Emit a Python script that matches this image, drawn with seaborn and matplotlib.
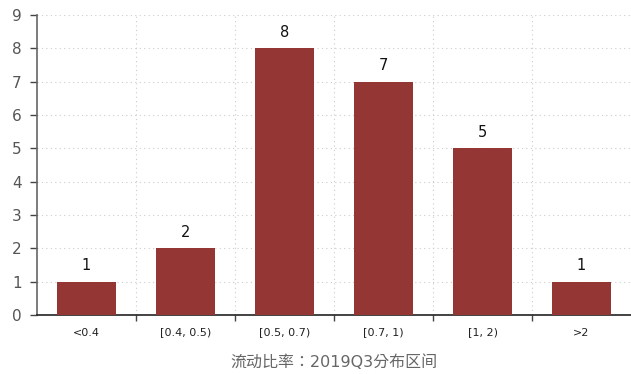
import matplotlib
matplotlib.use("Agg")
import matplotlib.pyplot as plt
import seaborn as sns
import pandas as pd
from matplotlib.ticker import FixedLocator

categories = ["<0.4", "[0.4, 0.5)", "[0.5, 0.7)", "[0.7, 1)", "[1, 2)", ">2"]
counts = [1, 2, 8, 7, 5, 1]
title = "流动比率：2019Q3分布区间"

sns.set_theme(style="white")
plt.rcParams["font.family"] = ["DejaVu Sans", "Noto Sans CJK TC"]

df = pd.DataFrame({"区间": categories, "数量": counts})

fig = plt.figure(figsize=(6.31, 3.74), dpi=100)
ax = fig.add_axes([37 / 631, 59 / 374, 594 / 631, 300 / 374])

bar_color = "#943634"
sns.barplot(data=df, x="区间", y="数量", color=bar_color, width=0.59,
            saturation=1, linewidth=0, ax=ax, zorder=3)

for i, v in enumerate(counts):
    ax.text(i, v + 0.25, str(v), ha="center", va="bottom", fontsize=10.5,
            color="#111111")

ax.set_xlim(-0.5, 5.5)
ax.set_ylim(0, 9)
ax.set_yticks(range(0, 10))
ax.xaxis.set_minor_locator(FixedLocator([0.5, 1.5, 2.5, 3.5, 4.5]))

ax.grid(axis="y", which="major", linestyle=(0, (1, 3)), color="#cccccc",
        linewidth=0.8, zorder=0)
ax.grid(axis="x", which="minor", linestyle=(0, (1, 3)), color="#cccccc",
        linewidth=0.8, zorder=0)
ax.grid(axis="x", which="major", visible=False)

ax.tick_params(axis="x", which="major", length=0, labelsize=8,
               colors="#222222", pad=9)
ax.tick_params(axis="x", which="minor", length=4, width=1, color="#444444",
               bottom=True)
ax.tick_params(axis="y", which="major", length=5, width=1, color="#444444",
               labelsize=11, labelcolor="#555555", left=True, pad=6)

for side in ["top", "right"]:
    ax.spines[side].set_visible(False)
ax.spines["left"].set_color("#666666")
ax.spines["left"].set_linewidth(1.2)
ax.spines["bottom"].set_color("#222222")
ax.spines["bottom"].set_linewidth(1.2)

ax.set_xlabel(title, fontsize=11.5, color="#666666", labelpad=12,
              family=["DejaVu Sans", "Noto Sans CJK TC"])
ax.set_ylabel("")

fig.savefig("out.png", dpi=100)
